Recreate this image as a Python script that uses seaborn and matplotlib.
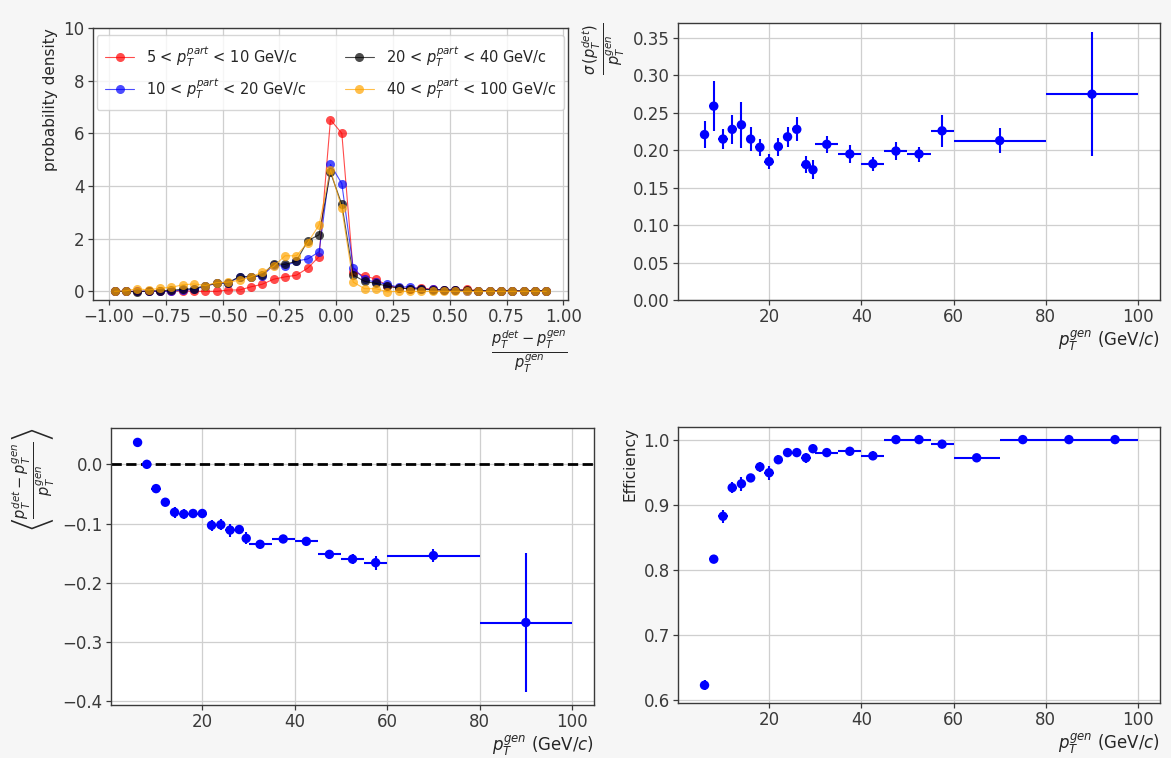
import numpy as np
import pandas as pd
import matplotlib
matplotlib.use("Agg")
import matplotlib.pyplot as plt
import seaborn as sns

# ---------------- data ----------------
dist_x = [-0.975, -0.925, -0.875, -0.825, -0.775, -0.725, -0.675, -0.625, -0.575, -0.525,
          -0.475, -0.425, -0.375, -0.325, -0.275, -0.225, -0.175, -0.125, -0.075, -0.025,
          0.025, 0.075, 0.125, 0.175, 0.225, 0.275, 0.325, 0.375, 0.425, 0.475,
          0.525, 0.575, 0.625, 0.675, 0.725, 0.775, 0.825, 0.875, 0.925]
dens_5_10 = [0.0, 0.0, 0.0, 0.0, 0.0, 0.0, 0.02, 0.0, 0.0, 0.0,
             0.05, 0.05, 0.17, 0.27, 0.46, 0.55, 0.61, 0.88, 1.32, 6.52,
             6.0, 0.75, 0.58, 0.47, 0.22, 0.13, 0.10, 0.14, 0.07, 0.05,
             0.04, 0.07, 0.03, 0.02, 0.02, 0.02, 0.01, 0.03, 0.02]
dens_10_20 = [0.0, 0.0, 0.0, 0.0, 0.0, 0.0, 0.05, 0.07, 0.20, 0.30,
              0.32, 0.55, 0.55, 0.58, 1.0, 0.95, 1.15, 1.23, 1.50, 4.82,
              4.09, 0.90, 0.45, 0.35, 0.27, 0.15, 0.18, 0.08, 0.07, 0.06,
              0.06, 0.03, 0.03, 0.02, 0.02, 0.02, 0.01, 0.02, 0.02]
dens_20_40 = [0.0, 0.0, -0.02, 0.02, 0.02, 0.04, 0.08, 0.10, 0.22, 0.30,
              0.33, 0.56, 0.55, 0.62, 1.05, 1.02, 1.15, 1.92, 2.15, 4.52,
              3.30, 0.62, 0.38, 0.30, 0.20, 0.12, 0.10, 0.08, 0.06, 0.05,
              0.04, 0.04, 0.03, 0.02, 0.02, 0.02, 0.02, 0.03, 0.02]
dens_40_100 = [0.0, 0.02, 0.10, 0.05, 0.12, 0.15, 0.25, 0.28, 0.22, 0.33,
               0.35, 0.42, 0.55, 0.72, 0.95, 1.35, 1.35, 1.85, 2.52, 4.62,
               3.15, 0.35, 0.10, 0.10, -0.02, 0.0, 0.0, 0.0, 0.0, 0.0,
               0.0, 0.0, 0.0, 0.0, 0.0, 0.0, 0.0, 0.0, 0.0]
dist_labels = [r"5 < $p_T^{part}$ < 10 GeV/c", r"10 < $p_T^{part}$ < 20 GeV/c",
               r"20 < $p_T^{part}$ < 40 GeV/c", r"40 < $p_T^{part}$ < 100 GeV/c"]
dist_colors = ["red", "blue", "black", "orange"]

# binning used for resolution / scale
pt_centers = [6, 8, 10, 12, 14, 16, 18, 20, 22, 24, 26, 28, 29.5,
              32.5, 37.5, 42.5, 47.5, 52.5, 57.5, 70, 90]
pt_halfwidth = [1, 1, 1, 1, 1, 1, 1, 1, 1, 1, 1, 1, 0.5,
                2.5, 2.5, 2.5, 2.5, 2.5, 2.5, 10, 10]
sigma_vals = [0.221, 0.259, 0.215, 0.228, 0.234, 0.215, 0.204, 0.185, 0.205, 0.218, 0.228,
              0.181, 0.174, 0.208, 0.195, 0.182, 0.199, 0.195, 0.226, 0.213, 0.275]
sigma_errs = [0.018, 0.033, 0.013, 0.019, 0.031, 0.016, 0.011, 0.010, 0.012, 0.013, 0.016,
              0.011, 0.013, 0.011, 0.012, 0.009, 0.012, 0.010, 0.021, 0.017, 0.083]
mean_vals = [0.037, 0.0, -0.041, -0.064, -0.081, -0.084, -0.083, -0.083, -0.103, -0.102, -0.111,
             -0.110, -0.125, -0.135, -0.126, -0.130, -0.152, -0.160, -0.166, -0.154, -0.267]
mean_errs = [0.003, 0.006, 0.007, 0.007, 0.009, 0.008, 0.007, 0.007, 0.009, 0.009, 0.011,
             0.008, 0.010, 0.004, 0.005, 0.006, 0.008, 0.009, 0.012, 0.011, 0.118]

# binning used for efficiency
eff_centers = [6, 8, 10, 12, 14, 16, 18, 20, 22, 24, 26, 28, 29.5,
               32.5, 37.5, 42.5, 47.5, 52.5, 57.5, 65, 75, 85, 95]
eff_halfwidth = [1, 1, 1, 1, 1, 1, 1, 1, 1, 1, 1, 1, 0.5,
                 2.5, 2.5, 2.5, 2.5, 2.5, 2.5, 5, 5, 5, 5]
eff_vals = [0.622, 0.816, 0.882, 0.926, 0.932, 0.941, 0.958, 0.949, 0.969, 0.980, 0.980,
            0.972, 0.986, 0.980, 0.982, 0.975, 1.0, 1.0, 0.993, 0.972, 1.0, 1.0, 1.0]
eff_errs = [0.008, 0.004, 0.010, 0.008, 0.011, 0.006, 0.008, 0.011, 0.007, 0.005, 0.005,
            0.008, 0.006, 0.003, 0.003, 0.007, 0.0, 0.0, 0.005, 0.006, 0.0, 0.0, 0.0]

# ---------------- style ----------------
sns.set_style("ticks")
plt.rcParams["font.family"] = ["DejaVu Sans"]
plt.rcParams["mathtext.fontset"] = "dejavusans"
plt.rcParams["axes.edgecolor"] = "#3a3a3a"
plt.rcParams["xtick.color"] = "#3a3a3a"
plt.rcParams["ytick.color"] = "#3a3a3a"
plt.rcParams["text.color"] = "#262626"
plt.rcParams["axes.labelcolor"] = "#262626"

fig = plt.figure(figsize=(11.71, 7.58), dpi=100, facecolor="#f6f6f6")
ax1 = fig.add_axes([0.0794, 0.6042, 0.4056, 0.3588])
ax2 = fig.add_axes([0.579, 0.6042, 0.4116, 0.3654])
ax3 = fig.add_axes([0.0948, 0.0699, 0.4125, 0.3654])
ax4 = fig.add_axes([0.579, 0.0726, 0.4116, 0.364])

TICK_FS = 12
for ax in (ax1, ax2, ax3, ax4):
    ax.set_facecolor("white")
    ax.grid(True, color="#cfcfcf", lw=0.9)
    ax.set_axisbelow(True)
    ax.tick_params(labelsize=TICK_FS, length=3.5, width=0.9, pad=2.5)
    for s in ax.spines.values():
        s.set_linewidth(1.0)

# ---------------- panel 1: distributions ----------------
dist_df = pd.DataFrame({"x": dist_x * 4,
                        "y": dens_5_10 + dens_10_20 + dens_20_40 + dens_40_100,
                        "bin": sum([[l] * len(dist_x) for l in dist_labels], [])})
for lab, col in zip(dist_labels, dist_colors):
    sub = dist_df[dist_df["bin"] == lab]
    sns.lineplot(data=sub, x="x", y="y", ax=ax1, color=col, alpha=0.7, lw=0.8,
                 marker="o", markersize=6.5, markeredgewidth=0, label=lab,
                 estimator=None, sort=False)
ax1.set_ylim(-0.33, 10)
ax1.set_xticks([-1.0, -0.75, -0.5, -0.25, 0.0, 0.25, 0.5, 0.75, 1.0])
ax1.set_yticks([0, 2, 4, 6, 8, 10])
ax1.set_ylabel("probability density", fontsize=11, loc="top")
ax1.set_xlabel(r"$\frac{p_T^{det}-p_T^{gen}}{p_T^{gen}}$", fontsize=15, loc="right",
               labelpad=2)
ax1.legend(ncol=2, loc="upper center", fontsize=10.5, framealpha=0.8, columnspacing=2.6,
           borderpad=0.6, handlelength=2.0)

# ---------------- panel 2: resolution ----------------
def err_panel(ax, xc, xw, yv, ye):
    ax.errorbar(xc, yv, xerr=xw, yerr=ye, fmt="none", ecolor="blue", elinewidth=1.5)
    sns.scatterplot(x=xc, y=yv, ax=ax, color="blue", s=46, edgecolor="none", zorder=3)

err_panel(ax2, pt_centers, pt_halfwidth, sigma_vals, sigma_errs)
ax2.set_ylim(0, 0.37)
ax2.set_xticks([20, 40, 60, 80, 100])
ax2.set_xlabel(r"$p_T^{gen}$ (GeV/$c$)", fontsize=12, loc="right", labelpad=1)
ax2.set_ylabel(r"$\frac{\sigma\,(p_T^{det})}{p_T^{gen}}$", fontsize=15, loc="top")

# ---------------- panel 3: scale ----------------
ax3.axhline(0, color="black", ls="--", lw=2, zorder=2)
err_panel(ax3, pt_centers, pt_halfwidth, mean_vals, mean_errs)
ax3.set_xticks([20, 40, 60, 80, 100])
ax3.set_yticks([0.0, -0.1, -0.2, -0.3, -0.4])
ax3.set_xlabel(r"$p_T^{gen}$ (GeV/$c$)", fontsize=12, loc="right", labelpad=1)
ax3.set_ylabel(r"$\left\langle\frac{p_T^{det}-p_T^{gen}}{p_T^{gen}}\right\rangle$",
               fontsize=15, loc="top")

# ---------------- panel 4: efficiency ----------------
err_panel(ax4, eff_centers, eff_halfwidth, eff_vals, eff_errs)
ax4.set_xticks([20, 40, 60, 80, 100])
ax4.set_yticks([0.6, 0.7, 0.8, 0.9, 1.0])
ax4.set_xlabel(r"$p_T^{gen}$ (GeV/$c$)", fontsize=12, loc="right", labelpad=1)
ax4.set_ylabel("Efficiency", fontsize=11, loc="top")

fig.savefig("out.png", dpi=100, facecolor=fig.get_facecolor())
